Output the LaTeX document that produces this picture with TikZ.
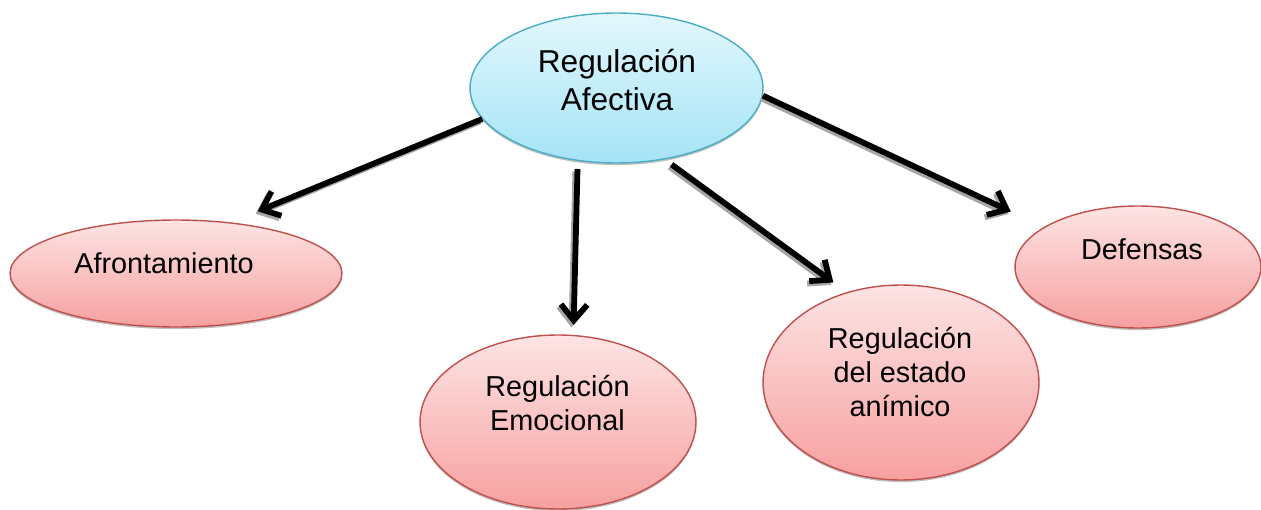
\documentclass[tikz,border=0pt]{standalone}
\usepackage{fontspec}
\setmainfont{Liberation Sans}
\usetikzlibrary{shapes.geometric, arrows.meta}
\definecolor{azularriba}{RGB}{226,247,252}
\definecolor{azulabajo}{RGB}{165,228,247}
\definecolor{azulborde}{RGB}{75,172,198}
\definecolor{rojoarriba}{RGB}{253,228,228}
\definecolor{rojoabajo}{RGB}{247,160,160}
\definecolor{rojoborde}{RGB}{192,80,77}

\begin{document}
\begin{tikzpicture}[x = 0.02cm, y = -0.02cm,
	elipse/.style = {ellipse, line width = 0.8pt, inner sep = 0pt,
		preaction = {fill = gray!50, transform canvas = {yshift = -1.2pt}}},
	azul/.style = {elipse, draw = azulborde, top color = azularriba, bottom color = azulabajo},
	rojo/.style = {elipse, draw = rojoborde, top color = rojoarriba, bottom color = rojoabajo},
	texto/.style = {align = center, inner sep = 0pt, font = \fontsize{16.4}{19.3}\selectfont},
	flecha/.style = {line width = 3.3pt, -{Straight Barb[length = 9pt, width = 15pt]}},
	sombra/.style = {flecha, draw = gray!70, transform canvas = {shift = {(-1.2pt, -1.4pt)}}}]
	\useasboundingbox (0, 0) rectangle (1261, 510);
	% elipses
	\node[azul, minimum width = 5.86cm, minimum height = 3cm] (afectiva) at (616.5, 88) {};
	\node[rojo, minimum width = 6.64cm, minimum height = 2.14cm] (afrontamiento) at (176, 273.5) {};
	\node[rojo, minimum width = 5.52cm, minimum height = 3.48cm] (emocional) at (558, 422) {};
	\node[rojo, minimum width = 5.52cm, minimum height = 3.9cm] (animico) at (901, 382.5) {};
	\node[rojo, minimum width = 4.92cm, minimum height = 2.44cm] (defensas) at (1138, 267) {};
	% textos
	\node[texto, font = \fontsize{18}{21.5}\selectfont] (afectiva-txt) at (617, 80) {Regulación\\Afectiva};
	\node[texto] (afrontamiento-txt) at (164, 263) {Afrontamiento};
	\node[texto] (emocional-txt) at (557.5, 403) {Regulación\\Emocional};
	\node[texto] (animico-txt) at (900, 372) {Regulación\\del estado\\anímico};
	\node[texto] (defensas-txt) at (1142, 249) {Defensas};
	% flechas, primero la sombra
	\foreach \desde/\hasta/\ini/\fin in {193/afrontamiento.43/0cm/0.58cm,
			242/emocional.80/0.16cm/0.2cm,
			-56/animico.121/0.17cm/0.33cm,
			-3/defensas.157/0cm/0.73cm}
	{
		\draw[sombra, shorten < = \ini, shorten > = \fin] (afectiva.\desde) -- (\hasta);
		\draw[flecha, shorten < = \ini, shorten > = \fin] (afectiva.\desde) -- (\hasta);
	}
\end{tikzpicture}
\end{document}
